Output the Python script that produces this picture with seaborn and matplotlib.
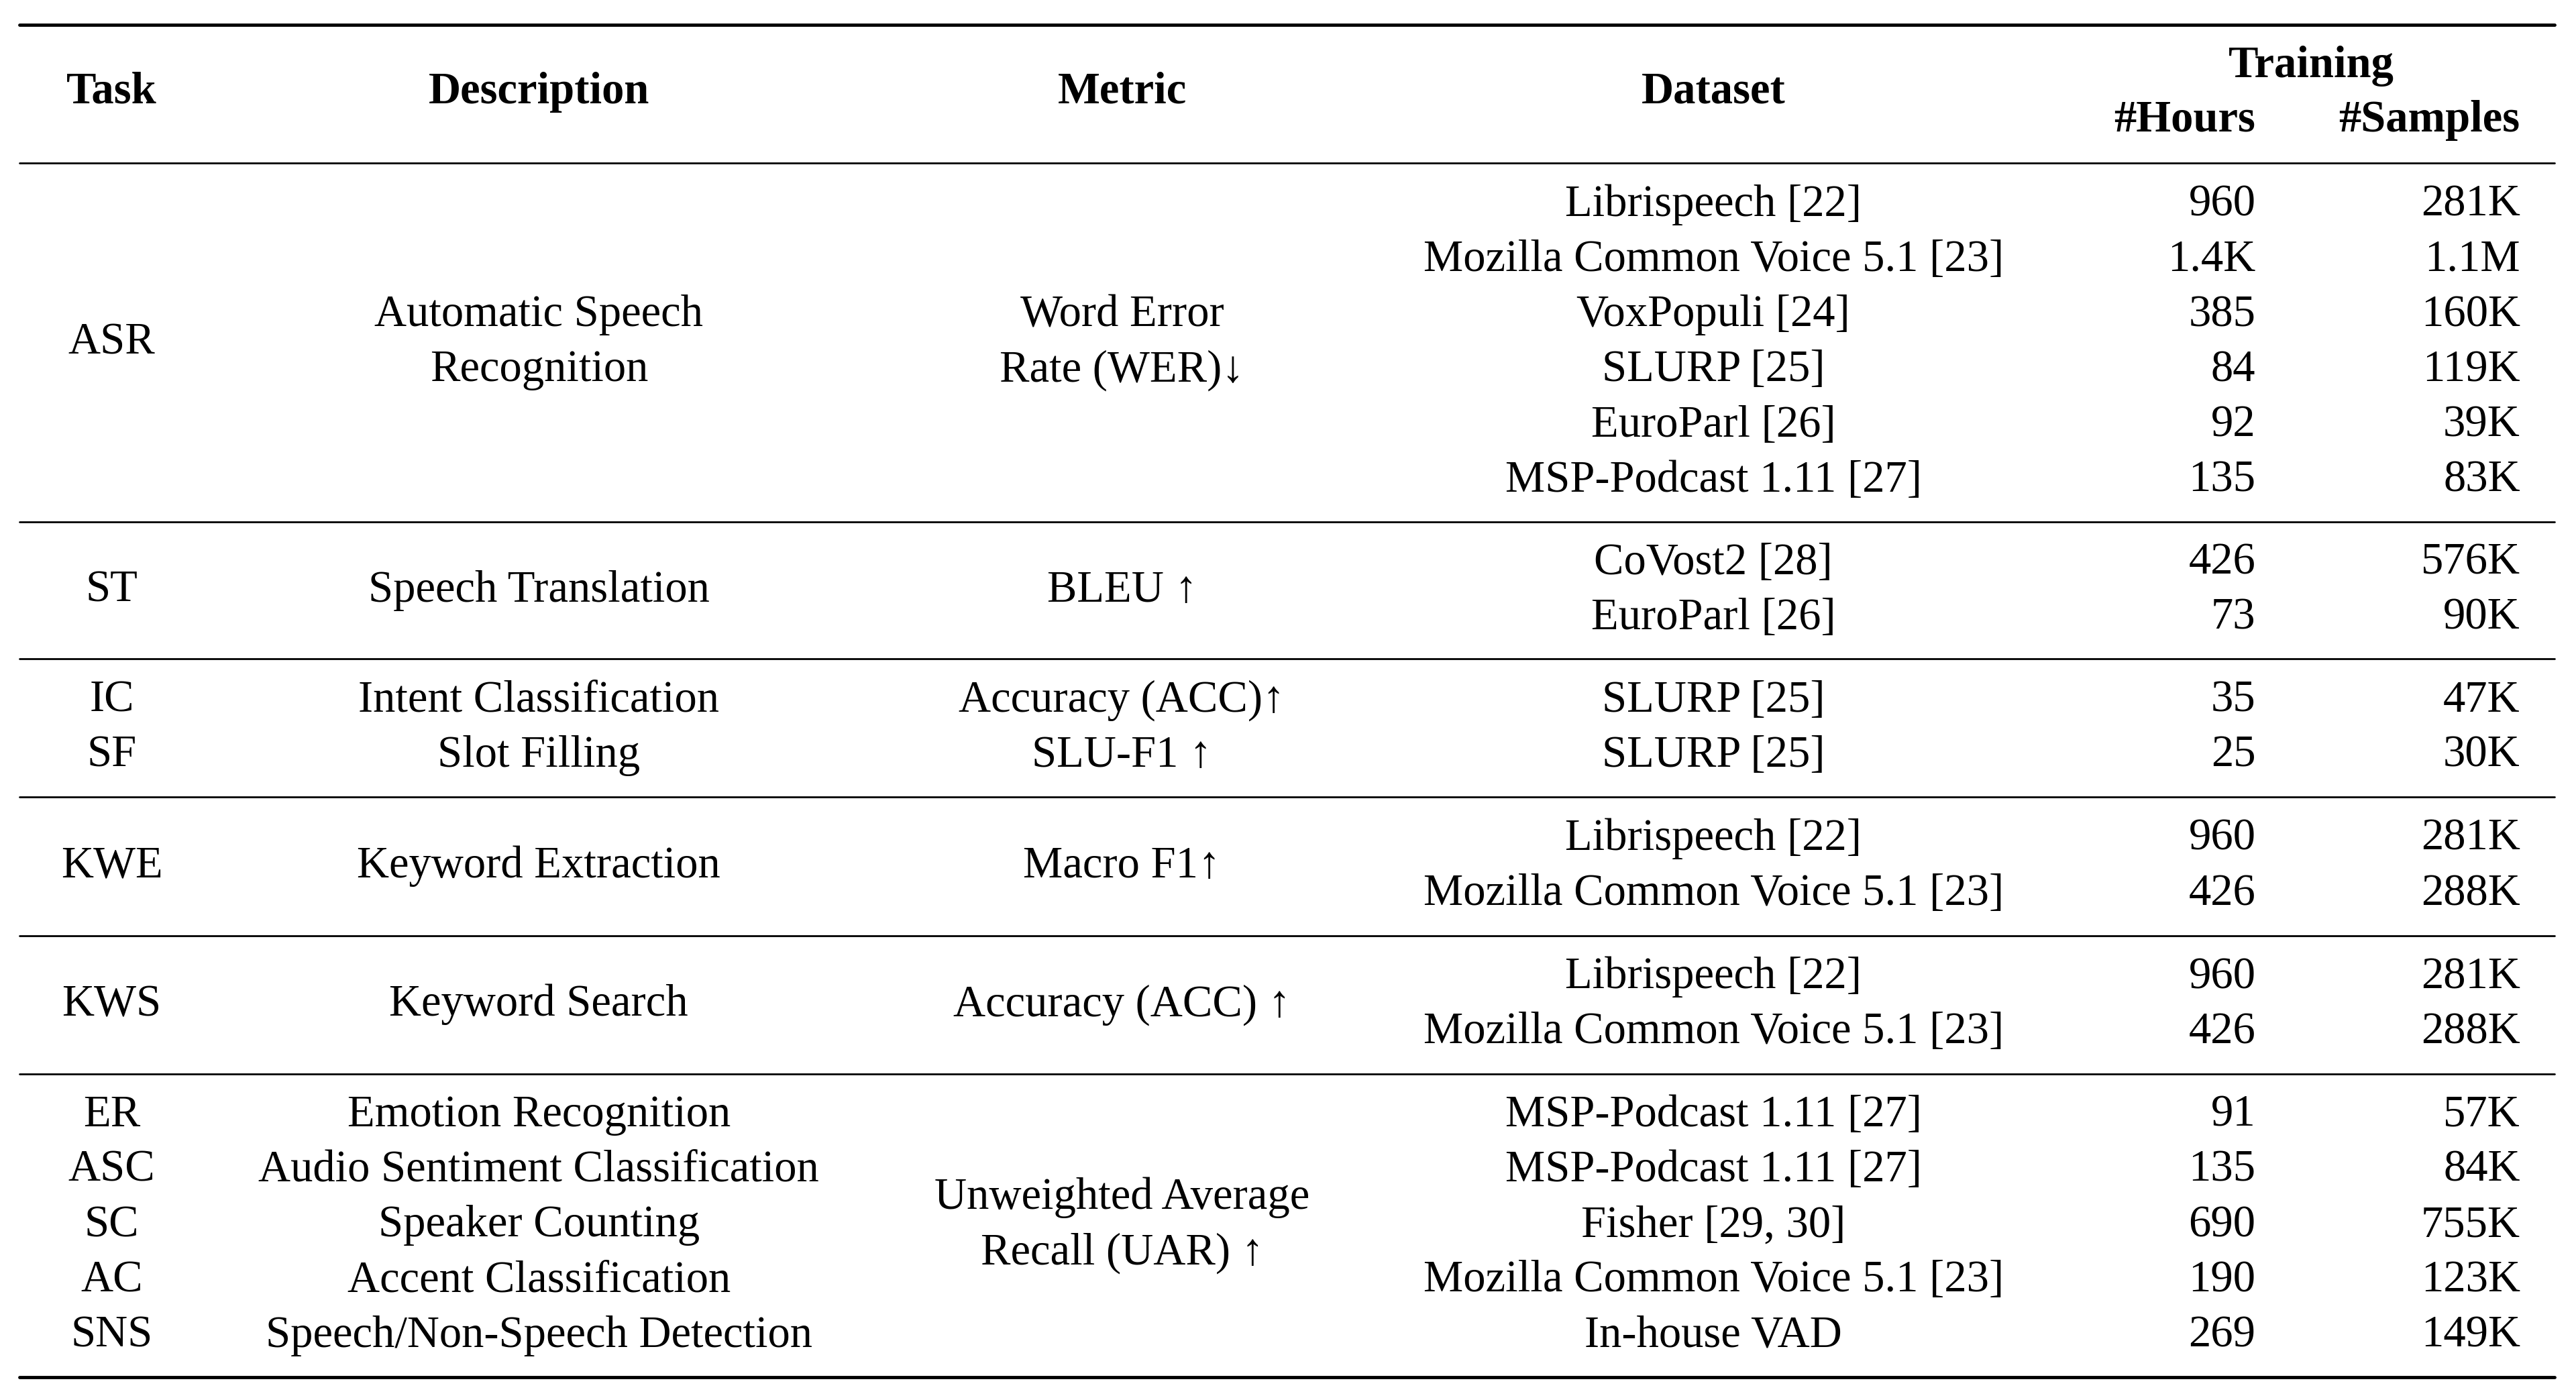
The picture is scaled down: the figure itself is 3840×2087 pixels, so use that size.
import matplotlib
matplotlib.use("Agg")
import matplotlib.pyplot as plt
import seaborn as sns

sns.set_theme(style="white")
plt.rcParams["font.family"] = ["Liberation Serif", "DejaVu Serif"]

# ---- data ----
tasks = [["ASR"], ["ST"], ["IC", "SF"], ["KWE"], ["KWS"], ["ER", "ASC", "SC", "AC", "SNS"]]
descriptions = [["Automatic Speech", "Recognition"], ["Speech Translation"],
                ["Intent Classification", "Slot Filling"], ["Keyword Extraction"],
                ["Keyword Search"],
                ["Emotion Recognition", "Audio Sentiment Classification", "Speaker Counting",
                 "Accent Classification", "Speech/Non-Speech Detection"]]
metrics = [["Word Error", "Rate (WER)↓"], ["BLEU ↑"], ["Accuracy (ACC)↑", "SLU-F1 ↑"],
           ["Macro F1↑"], ["Accuracy (ACC) ↑"], ["Unweighted Average", "Recall (UAR) ↑"]]
datasets = [["Librispeech [22]", "Mozilla Common Voice 5.1 [23]", "VoxPopuli [24]", "SLURP [25]",
             "EuroParl [26]", "MSP-Podcast 1.11 [27]"],
            ["CoVost2 [28]", "EuroParl [26]"],
            ["SLURP [25]", "SLURP [25]"],
            ["Librispeech [22]", "Mozilla Common Voice 5.1 [23]"],
            ["Librispeech [22]", "Mozilla Common Voice 5.1 [23]"],
            ["MSP-Podcast 1.11 [27]", "MSP-Podcast 1.11 [27]", "Fisher [29, 30]",
             "Mozilla Common Voice 5.1 [23]", "In-house VAD"]]
hours = [["960", "1.4K", "385", "84", "92", "135"], ["426", "73"], ["35", "25"],
         ["960", "426"], ["960", "426"], ["91", "135", "690", "190", "269"]]
samples = [["281K", "1.1M", "160K", "119K", "39K", "83K"], ["576K", "90K"], ["47K", "30K"],
           ["281K", "288K"], ["281K", "288K"], ["57K", "84K", "755K", "123K", "149K"]]
headers = ["Task", "Description", "Metric", "Dataset"]

# ---- layout (reference pixel frame 1568 x 850) ----
W, H = 1568, 850
col_x = [68, 328, 683, 1043]
hours_x, samples_x = 1373, 1534
row_h = 33.5
group_top = [99, 317, 400, 484, 568, 652]
group_bottom = [317, 400, 484, 568, 652, 836]
FS = 48

fig = plt.figure(figsize=(38.4, 20.87), dpi=100)
ax = fig.add_axes([0, 0, 1, 1])
ax.set_xlim(0, W)
ax.set_ylim(H, 0)
ax.axis("off")

def t(x, y, s, ha="center", bold=False):
    ax.text(x, y, s, ha=ha, va="center", fontsize=FS, color="black",
            fontweight="bold" if bold else "normal")

for x, h in zip(col_x, headers):
    t(x, 56, h, bold=True)
t(1407, 40, "Training", bold=True)
t(hours_x, 73, "#Hours", ha="right", bold=True)
t(samples_x, 73, "#Samples", ha="right", bold=True)

ax.plot([12, 1555], [15, 15], color="black", lw=3.5)
ax.plot([12, 1555], [836, 836], color="black", lw=3.5)
for y in group_top:
    ax.plot([12, 1555], [y, y], color="black", lw=2.0)

for g in range(len(tasks)):
    n = len(datasets[g])
    center = (group_top[g] + group_bottom[g]) / 2
    for col, items in zip(col_x, [tasks[g], descriptions[g], metrics[g], datasets[g]]):
        k = len(items)
        for i, s in enumerate(items):
            t(col, center + (i - (k - 1) / 2) * row_h, s)
    for i in range(n):
        y = center + (i - (n - 1) / 2) * row_h
        t(hours_x, y, hours[g][i], ha="right")
        t(samples_x, y, samples[g][i], ha="right")

fig.savefig("out.png", dpi=100, facecolor="white")
